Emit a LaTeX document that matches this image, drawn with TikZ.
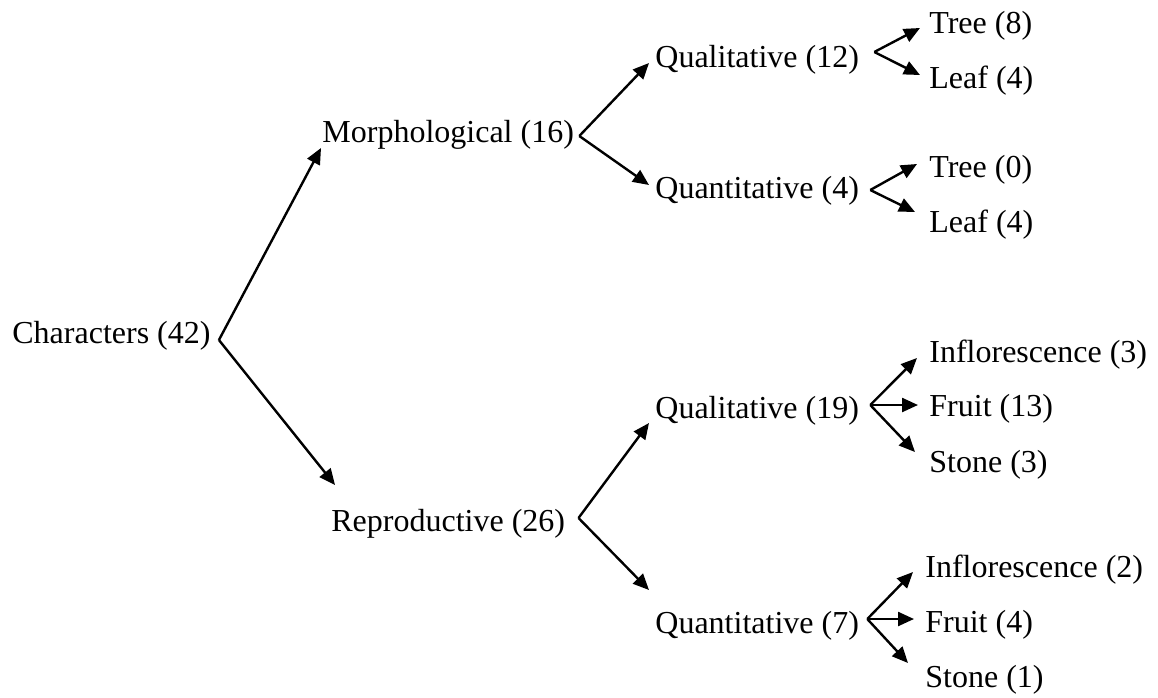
\documentclass[tikz,border=0pt]{standalone}
\usepackage{fontspec}
\setmainfont{Liberation Serif}
\usetikzlibrary{arrows.meta}
\begin{document}
\begin{tikzpicture}[x=0.5pt,y=-0.5pt,
  lbl/.style={anchor=base west,inner sep=0pt,font=\fontsize{16}{19}\selectfont},
  conn/.style={line width=1.2pt,-{Triangle[length=8pt,width=7pt]}}]
\useasboundingbox (0,0) rectangle (1158,697);
% nodes
\node[lbl] (c)  at (12,343)  {Characters (42)};
\node[lbl] (m)  at (322,142) {Morphological (16)};
\node[lbl] (r)  at (331,531) {Reproductive (26)};
\node[lbl] (q1) at (655,67)  {Qualitative (12)};
\node[lbl] (n1) at (655,198) {Quantitative (4)};
\node[lbl] (q2) at (655,418) {Qualitative (19)};
\node[lbl] (n2) at (655,633) {Quantitative (7)};
\node[lbl] (t1) at (929,33)  {Tree (8)};
\node[lbl] (l1) at (929,88)  {Leaf (4)};
\node[lbl] (t2) at (929,177) {Tree (0)};
\node[lbl] (l2) at (929,232) {Leaf (4)};
\node[lbl] (i1) at (929,362) {Inflorescence (3)};
\node[lbl] (f1) at (929,416) {Fruit (13)};
\node[lbl] (s1) at (929,472) {Stone (3)};
\node[lbl] (i2) at (925,577) {Inflorescence (2)};
\node[lbl] (f2) at (925,632) {Fruit (4)};
\node[lbl] (s2) at (925,687) {Stone (1)};
% junction points
\coordinate (jc)  at ([shift={(8,-3)}]c.base east);
\coordinate (jm)  at ([shift={(5,-6)}]m.base east);
\coordinate (jr)  at ([shift={(13,-13)}]r.base east);
\coordinate (jq1) at ([shift={(15,-15)}]q1.base east);
\coordinate (jn1) at ([shift={(11,-8)}]n1.base east);
\coordinate (jq2) at ([shift={(11,-13)}]q2.base east);
\coordinate (jn2) at ([shift={(8,-14)}]n2.base east);
% connectors
\draw[conn] (jc) -- ([shift={(-1,6)}]m.base west);
\draw[conn] (jc) -- ([shift={(4,-46)}]r.base west);
\draw[conn] (jm) -- ([shift={(-6,-4)}]q1.base west);
\draw[conn] (jm) -- ([shift={(-6,-13)}]n1.base west);
\draw[conn] (jr) -- ([shift={(-6,5)}]q2.base west);
\draw[conn] (jr) -- ([shift={(-6,-43)}]n2.base west);
\draw[conn] (jq1) -- ([shift={(-9,-5)}]t1.base west);
\draw[conn] (jq1) -- ([shift={(-9,-13)}]l1.base west);
\draw[conn] (jn1) -- ([shift={(-12,-13)}]t2.base west);
\draw[conn] (jn1) -- ([shift={(-14,-20)}]l2.base west);
\draw[conn] (jq2) -- ([shift={(-12,-4)}]i1.base west);
\draw[conn] (jq2) -- ([shift={(-11,-11)}]f1.base west);
\draw[conn] (jq2) -- ([shift={(-14,-20)}]s1.base west);
\draw[conn] (jn2) -- ([shift={(-12,-5)}]i2.base west);
\draw[conn] (jn2) -- ([shift={(-11,-13)}]f2.base west);
\draw[conn] (jn2) -- ([shift={(-17,-24)}]s2.base west);
\end{tikzpicture}
\end{document}
